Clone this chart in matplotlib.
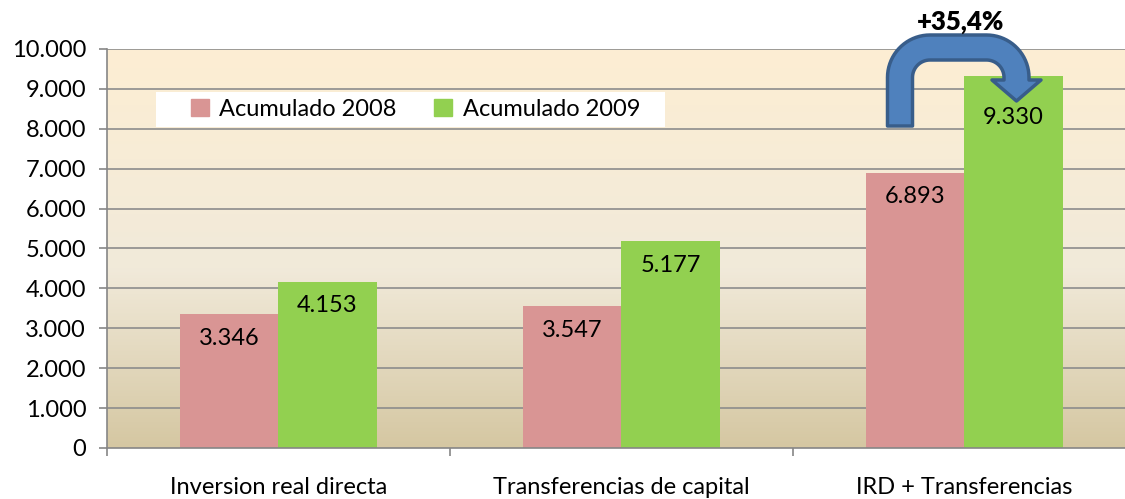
import matplotlib.pyplot as plt
import numpy as np
from matplotlib.colors import LinearSegmentedColormap
from matplotlib.patches import Polygon, Patch, Rectangle

categories = ['Inversion real directa', 'Transferencias de capital', 'IRD + Transferencias']
acum_2008 = [3346, 3547, 6893]
acum_2009 = [4153, 5177, 9330]
series_names = ['Acumulado 2008', 'Acumulado 2009']
yticks = np.arange(0, 10001, 1000)
growth_label = '+35,4%'

plt.rcParams['font.family'] = ['Lato', 'DejaVu Sans']

W, H = 1125, 499
fig = plt.figure(figsize=(W / 100, H / 100), dpi=100)
# plot area in pixels: left 107, right 1136 (runs past the edge), top 49, bottom 448
L, R, T, B = 107, 1136, 49, 448
ax = fig.add_axes([L / W, (H - B) / H, (R - L) / W, (B - T) / H])
ax.set_xlim(-0.5, 2.5)
ax.set_ylim(0, 10000)

# background gradient
bg = LinearSegmentedColormap.from_list('bg', [(0, '#d5c7a2'), (0.45, '#f1eada'), (1, '#fdeed3')])
ax.imshow(np.linspace(0, 1, 256).reshape(-1, 1), cmap=bg, aspect='auto',
          extent=(-0.5, 2.5, 0, 10000), origin='lower', zorder=0)

grid_color = '#8c8c8c'
for v in yticks[1:]:
    ax.axhline(v, color=grid_color, lw=1.2, zorder=1)

x = np.arange(len(categories))
bw = 0.286
pink, green = '#d99594', '#92d050'
b1 = ax.bar(x - bw / 2, acum_2008, bw, color=pink, zorder=2)
b2 = ax.bar(x + bw / 2, acum_2009, bw, color=green, zorder=2)

def fmt(v):
    return f'{v:,}'.replace(',', '.')

fs = 17
for bars, vals in ((b1, acum_2008), (b2, acum_2009)):
    for rect, v in zip(bars, vals):
        # the tallest label sits lower to leave room for the arrow head
        dy = -30 if v == max(acum_2009) else -17
        ax.annotate(fmt(v), (rect.get_x() + rect.get_width() / 2, v),
                    xytext=(0, dy), textcoords='offset points',
                    ha='center', va='center', fontsize=fs, zorder=3)

# axes styling
for s in ('top', 'right'):
    ax.spines[s].set_visible(False)
for s in ('left', 'bottom'):
    ax.spines[s].set_color('#868686')
    ax.spines[s].set_linewidth(1.2)
ax.set_yticks(yticks)
ax.set_yticklabels([fmt(v) for v in yticks], fontsize=fs)
ax.tick_params(axis='y', length=6, width=1.2, color='#868686', pad=9)
ax.set_xticks([-0.5, 0.5, 1.5, 2.5])
ax.set_xticklabels([])
ax.tick_params(axis='x', length=6, width=1.2, color='#868686')
ax.set_xticks(x, minor=True)
ax.set_xticklabels(categories, minor=True, fontsize=fs)
ax.tick_params(axis='x', which='minor', length=0, pad=21)

# legend on a white box
def ax_frac(px, py):
    return ((px - L) / (R - L), (B - py) / (B - T))

bx0, by0 = ax_frac(156, 127)
bx1, by1 = ax_frac(665, 92)
ax.add_patch(Rectangle((bx0, by0), bx1 - bx0, by1 - by0, transform=ax.transAxes,
                       facecolor='white', edgecolor='none', zorder=4))
handles = [Patch(color=pink), Patch(color=green)]
lx, ly = ax_frac(191, 109)
leg = ax.legend(handles, series_names, loc='center left', ncol=2,
                bbox_to_anchor=(lx, ly), fontsize=fs, frameon=False,
                borderaxespad=0, borderpad=0, handlelength=0.75, handleheight=0.75,
                handletextpad=0.45, columnspacing=1.6)
leg.set_zorder(5)

# bent arrow from the 2008 bar to the 2009 bar of the last group (pixel layout)
def to_data(px, py):
    return ((px - L) / (R - L) * 3 - 0.5, (B - py) / (B - T) * 10000)

xl, xr, ymid, w, r = 900, 1016.5, 47.5, 12.5, 30
c1 = (xl + r, ymid + r)
c2 = (xr - r, ymid + r)
def arc(c, rad, a0, a1, n=20):
    a = np.radians(np.linspace(a0, a1, n))
    return list(zip(c[0] + rad * np.cos(a), c[1] - rad * np.sin(a)))

pts = [(xl - w, 126)]
pts += arc(c1, r + w, 180, 90)
pts += arc(c2, r + w, 90, 0)
pts += [(xr + w, 80), (xr + 24.5, 80), (xr, 101), (xr - 24.5, 80), (xr - w, 80)]
pts += arc(c2, r - w, 0, 90)
pts += arc(c1, r - w, 90, 180)
pts += [(xl + w, 126)]
arrow = Polygon([to_data(*p) for p in pts], closed=True, facecolor='#4f81bd',
                edgecolor='#385d8a', lw=2.5, joinstyle='round', clip_on=False, zorder=5)
ax.add_patch(arrow)
tx, ty = to_data(961, 22)
ax.text(tx, ty, growth_label, ha='center', va='center', fontsize=18.5,
        fontweight='heavy', zorder=6, clip_on=False)

fig.savefig('out.png', dpi=100)
